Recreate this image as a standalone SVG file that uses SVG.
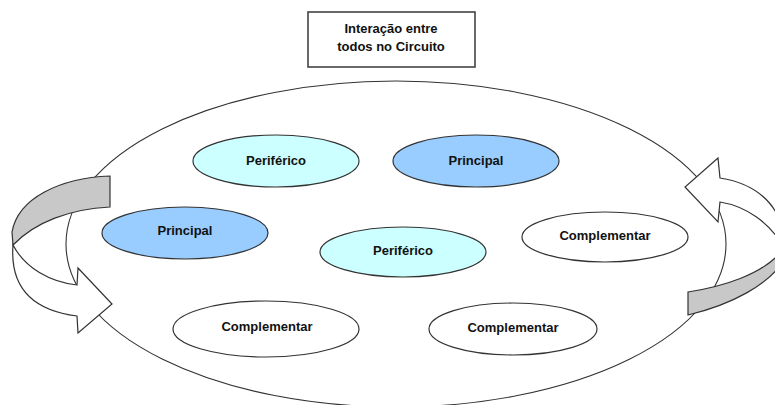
<svg xmlns="http://www.w3.org/2000/svg" width="775" height="405" viewBox="0 0 775 405">
  <style>
    .lbl { font-family: "Liberation Sans", Arial, sans-serif; font-size: 13px; font-weight: bold; fill: #111; text-anchor: middle; }
    .node { stroke: #333; stroke-width: 1.2; }
    .per { fill: #CCFFFF; }
    .pri { fill: #99CCFF; }
    .comp { fill: #FFFFFF; }
    .arrow-back { fill: #C8C8C8; stroke: #333; stroke-width: 1.2; stroke-linejoin: miter; }
    .arrow-front { fill: #FFFFFF; stroke: #333; stroke-width: 1.2; stroke-linejoin: miter; }
  </style>
  <rect x="0" y="0" width="775" height="405" fill="#FFFFFF"/>

  <g id="circuit">
    <ellipse cx="396" cy="244" rx="330" ry="163" fill="#FFFFFF" stroke="#333" stroke-width="1.1"/>
  </g>

  <g id="connectors">
    <!-- left curved arrow -->
    <path class="arrow-back" d="M110,176 C60,178 18,198 12,232 L13,245 C35,222 70,209 110,207 Z"/>
    <path class="arrow-front" d="M13,245 C10,285 30,310 77,316 L78,333 L112,304 L78,268 L77,285 C50,282 25,268 13,245 Z"/>
    <!-- right curved arrow -->
    <path class="arrow-back" d="M688,292 C720,287 765,275 784,248 L785,258 C770,285 730,305 688,315 Z"/>
    <path class="arrow-front" d="M784,248 C786,215 765,185 720,178 L718,158 L685,187 L718,222 L720,202 C745,206 770,222 784,248 Z"/>
  </g>

  <g id="title">
    <rect x="308" y="12" width="167" height="55" fill="#FFFFFF" stroke="#444" stroke-width="1.6"/>
    <text class="lbl" x="391" y="33">Interação entre</text>
    <text class="lbl" x="391" y="51">todos no Circuito</text>
  </g>

  <g id="periferico-1">
    <ellipse class="node per" cx="276" cy="161" rx="83" ry="26"/>
    <text class="lbl" x="276" y="165">Periférico</text>
  </g>
  <g id="principal-1">
    <ellipse class="node pri" cx="476" cy="161" rx="83" ry="26"/>
    <text class="lbl" x="476" y="165">Principal</text>
  </g>
  <g id="principal-2">
    <ellipse class="node pri" cx="185" cy="233" rx="83" ry="26"/>
    <text class="lbl" x="185" y="235">Principal</text>
  </g>
  <g id="periferico-2">
    <ellipse class="node per" cx="403" cy="252" rx="83" ry="25"/>
    <text class="lbl" x="403" y="255">Periférico</text>
  </g>
  <g id="complementar-1">
    <ellipse class="node comp" cx="605" cy="237" rx="83" ry="25"/>
    <text class="lbl" x="605" y="240">Complementar</text>
  </g>
  <g id="complementar-2">
    <ellipse class="node comp" cx="266" cy="329" rx="93" ry="28"/>
    <text class="lbl" x="267" y="331">Complementar</text>
  </g>
  <g id="complementar-3">
    <ellipse class="node comp" cx="513" cy="329" rx="84" ry="26"/>
    <text class="lbl" x="513" y="332">Complementar</text>
  </g>
</svg>
